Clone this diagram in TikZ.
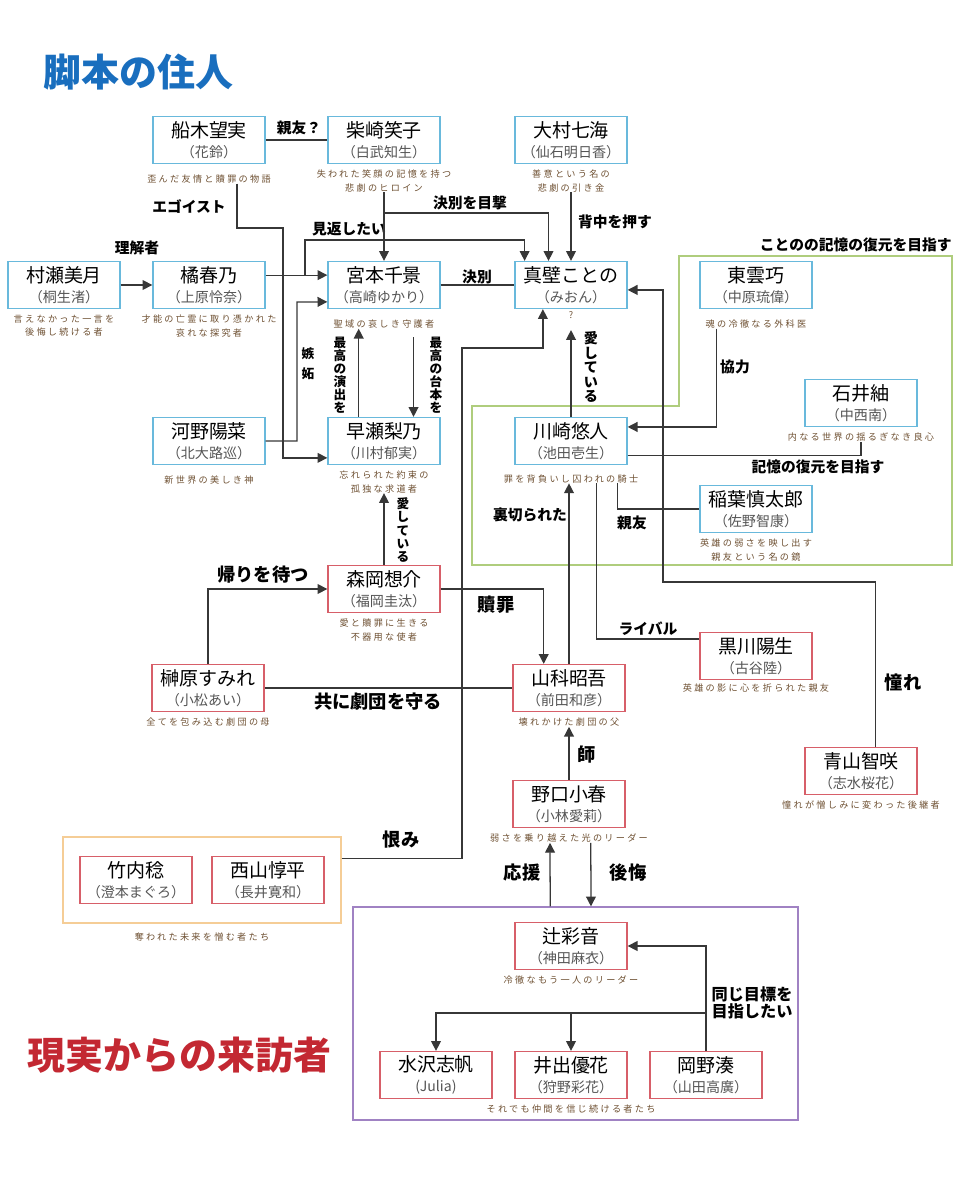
\documentclass[tikz,border=0pt]{standalone}
\usepackage{fontspec}
\setmainfont{Noto Sans CJK JP}
\newfontfamily\descfamily[LetterSpace=25]{Noto Sans CJK JP}
\usepackage{xcolor}
\definecolor{CastBlue}{RGB}{105,185,220}
\definecolor{CastRed}{RGB}{215,95,105}
\definecolor{DescBrown}{RGB}{110,80,50}
\definecolor{ReadGray}{RGB}{85,85,85}
\definecolor{LinkGray}{RGB}{55,55,55}
\definecolor{GroupGreen}{RGB}{175,205,125}
\definecolor{GroupOrange}{RGB}{245,205,150}
\definecolor{GroupPurple}{RGB}{160,130,195}
\definecolor{TitleBlue}{RGB}{25,110,190}
\definecolor{TitleRed}{RGB}{195,40,50}
\usepackage{tikz}
\usetikzlibrary{arrows.meta,positioning,fit}

\newcommand{\cast}[2]{{\fontsize{13.5}{14}\selectfont #1}\\{\fontsize{10}{14}\selectfont\color{ReadGray}（#2）}}

\begin{document}
\begin{tikzpicture}[
  x=0.025cm, y=-0.025cm,
  castA/.style={rectangle, draw=CastBlue, line width=0.9pt, fill=white,
                minimum width=2.8cm, minimum height=1.175cm, align=center,
                inner sep=1pt, font=\fontsize{13.5}{14}\selectfont},
  castB/.style={castA, draw=CastRed},
  desc/.style={font=\descfamily\fontsize{6.5}{9.5}\selectfont, text=DescBrown,
               align=center, inner sep=0pt},
  rel/.style={font=\bfseries\fontsize{10.5}{12}\selectfont, inner sep=0pt, align=center},
  bigrel/.style={font=\bfseries\fontsize{13}{15}\selectfont, inner sep=0pt},
  vrel/.style={font=\bfseries\fontsize{9}{#1}\selectfont, inner sep=0pt, align=center},
  vrel/.default=9.5pt,
  link/.style={line width=0.9pt, color=LinkGray},
  arr/.style={link, -{Triangle[length=7pt,width=7pt]}},
  group/.style={draw=#1, line width=0.9pt}
]
\useasboundingbox (0,0) rectangle (960,1200);

% titles
\node[font=\bfseries\fontsize{27}{30}\selectfont, text=TitleBlue, anchor=west, inner sep=0pt] (title-script) at (43,72) {脚本の住人};
\node[font=\bfseries\fontsize{27}{30}\selectfont, text=TitleRed, anchor=west, inner sep=0pt] (title-visitors) at (27,1055) {現実からの来訪者};

% script residents
\node[castA] (funaki) at (209,140) {\cast{船木望実}{花鈴}};
\node[desc, below=7.5pt of funaki] (d-funaki) {歪んだ友情と贖罪の物語};
\node[castA] (shibasaki) at (384,140) {\cast{柴崎笑子}{白武知生}};
\node[desc, below=4pt of shibasaki] (d-shibasaki) {失われた笑顔の記憶を持つ\\悲劇のヒロイン};
\node[castA] (omura) at (571,140) {\cast{大村七海}{仙石明日香}};
\node[desc, below=4pt of omura] (d-omura) {善意という名の\\悲劇の引き金};
\node[castA] (murase) at (64,285) {\cast{村瀬美月}{桐生渚}};
\node[desc, below=4pt of murase] (d-murase) {言えなかった一言を\\後悔し続ける者};
\node[castA] (tachibana) at (209,285) {\cast{橘春乃}{上原怜奈}};
\node[desc, below=4pt of tachibana] (d-tachibana) {才能の亡霊に取り憑かれた\\哀れな探究者};
\node[castA] (miyamoto) at (384,285) {\cast{宮本千景}{高崎ゆかり}};
\node[desc, below=7.5pt of miyamoto] (d-miyamoto) {聖域の哀しき守護者};
\node[castA] (makabe) at (571,285) {\cast{真壁ことの}{みおん}};
\node[desc] (q-makabe) at (571,315) {?};
\node[castA] (shinonome) at (756,285) {\cast{東雲巧}{中原琉偉}};
\node[desc, below=7.5pt of shinonome] (d-shinonome) {魂の冷徹なる外科医};
\node[castA] (ishii) at (861,403) {\cast{石井紬}{中西南}};
\node[desc, below=4pt of ishii] (d-ishii) {内なる世界の揺るぎなき良心};
\node[castA] (kono) at (209,441) {\cast{河野陽菜}{北大路巡}};
\node[desc, below=7.5pt of kono] (d-kono) {新世界の美しき神};
\node[castA] (hayase) at (384,441) {\cast{早瀬梨乃}{川村郁実}};
\node[desc, below=4pt of hayase] (d-hayase) {忘れられた約束の\\孤独な求道者};
\node[castA] (kawasaki) at (571,441) {\cast{川崎悠人}{池田壱生}};
\node[desc, below=6.5pt of kawasaki] (d-kawasaki) {罪を背負いし囚われの騎士};
\node[castA] (inaba) at (756,509) {\cast{稲葉慎太郎}{佐野智康}};
\node[desc, below=4pt of inaba] (d-inaba) {英雄の弱さを映し出す\\親友という名の鏡};

% visitors from reality
\node[castB] (morioka) at (384,589) {\cast{森岡想介}{福岡圭汰}};
\node[desc, below=4pt of morioka] (d-morioka) {愛と贖罪に生きる\\不器用な使者};
\node[castB] (sakakibara) at (208,688) {\cast{榊原すみれ}{小松あい}};
\node[desc, below=4pt of sakakibara] (d-sakakibara) {全てを包み込む劇団の母};
\node[castB] (yamashina) at (569,688) {\cast{山科昭吾}{前田和彦}};
\node[desc, below=4pt of yamashina] (d-yamashina) {壊れかけた劇団の父};
\node[castB] (kurokawa) at (756,656) {\cast{黒川陽生}{古谷陸}};
\node[desc, below=2.5pt of kurokawa] (d-kurokawa) {英雄の影に心を折られた親友};
\node[castB] (aoyama) at (861,771) {\cast{青山智咲}{志水桜花}};
\node[desc, below=4pt of aoyama] (d-aoyama) {憧れが憎しみに変わった後継者};
\node[castB] (noguchi) at (569,804) {\cast{野口小春}{小林愛莉}};
\node[desc, below=4pt of noguchi] (d-noguchi) {弱さを乗り越えた光のリーダー};
\node[castB] (takeuchi) at (136,880) {\cast{竹内稔}{澄本まぐろ}};
\node[castB] (nishiyama) at (268,880) {\cast{西山惇平}{長井寛和}};
\node[castB] (tsuji) at (571,946) {\cast{辻彩音}{神田麻衣}};
\node[desc, below=4pt of tsuji] (d-tsuji) {冷徹なもう一人のリーダー};
\node[castB] (mizusawa) at (436,1075) {{\fontsize{13.5}{14}\selectfont 水沢志帆}\\{\fontsize{10}{14}\selectfont\color{ReadGray}(Julia)}};
\node[castB] (ide) at (571,1075) {\cast{井出優花}{狩野彩花}};
\node[castB] (okano) at (706,1075) {\cast{岡野湊}{山田高廣}};
\node[desc, below=4pt of ide] (d-visitors) {それでも仲間を信じ続ける者たち};

% groups
\node[group=GroupOrange, fit=(takeuchi)(nishiyama), inner xsep=11.7pt, inner ysep=13.5pt] (rivals) {};
\node[desc, below=6pt of rivals] (d-rivals) {奪われた未来を憎む者たち};
\node[group=GroupPurple, fit={(353,907) (798,1120)}, inner sep=0pt] (visitors) {};
\draw[group=GroupGreen] (679,256) -- (952,256) -- (952,565) -- (472,565) -- (472,406) -- (679,406) -- cycle;
\node[rel, anchor=south east] (l-kotono) at (952,252) {ことのの記憶の復元を目指す};

% top links
\draw[link] (funaki) -- (shibasaki);
\node[rel] (l-shinyu1) at (299,128) {親友？};
\draw[arr] (murase) -- (tachibana);
\node[rel] (l-rikai) at (137,248) {理解者};
\draw[arr] ([yshift=7pt]tachibana.east) -- ([yshift=7pt]miyamoto.west);
\coordinate (j-mikaeshi) at (305,275);
\draw[arr] (j-mikaeshi) -- (305,240) -| ([xshift=-33pt]makabe.north);
\node[rel] (l-mikaeshi) at (349,229) {見返したい};
\draw[arr] (d-shibasaki) -- (miyamoto);
\coordinate (j-mokugeki) at (384,213);
\draw[arr] (j-mokugeki) -| ([xshift=-16pt]makabe.north);
\node[rel] (l-mokugeki) at (470,203) {決別を目撃};
\draw[arr] (d-omura) -- (makabe);
\node[rel] (l-senaka) at (615,222) {背中を押す};
\draw[link] (miyamoto) -- (makabe);
\node[rel] (l-ketsubetsu) at (477,277) {決別};

% left links
\draw[arr] ([xshift=20pt]d-funaki.south) |- (283,228) |- ([yshift=-12pt]hayase.west);
\node[rel] (l-egoist) at (189,207) {エゴイスト};
\draw[arr] (kono.east) -| (297,302) -- ([yshift=-12pt]miyamoto.west);
\node[vrel=14pt] (l-shitto) at (308,364) {嫉\\妬};
\draw[arr] ([xshift=-18pt]hayase.north) -- ([xshift=-18pt]d-miyamoto.south);
\node[vrel=9.3pt] (l-enshutsu) at (340,375) {最\\高\\の\\演\\出\\を};
\draw[arr] ([xshift=21pt,yshift=-6pt]d-miyamoto.south) -- ([xshift=21pt]hayase.north);
\node[vrel=9.3pt] (l-daihon) at (436,375) {最\\高\\の\\台\\本\\を};
\draw[arr] (morioka) -- (d-hayase);
\node[vrel=9.3pt] (l-ai2) at (403,530) {愛\\し\\て\\い\\る};
\draw[arr] (sakakibara.north) |- (morioka.west);
\node[bigrel] (l-kaeri) at (263,575) {帰りを待つ};
\draw[arr] (morioka.east) -| ([xshift=-18pt]yamashina.north);
\node[bigrel] (l-shokuzai) at (496,605) {贖罪};
\draw[link] (sakakibara) -- (yamashina);
\node[bigrel] (l-gekidan) at (378,702) {共に劇団を守る};
\draw[arr] ([yshift=15.5pt]rivals.east) -| (462,348) -| ([xshift=-20pt]makabe.south);
\node[bigrel] (l-urami) at (401,840) {恨み};

% right links
\draw[arr] (kawasaki) -- ([yshift=-8pt]q-makabe.south);
\node[vrel=10.3pt, font=\bfseries\fontsize{10}{10.3}\selectfont] (l-ai1) at (591,367) {愛\\し\\て\\い\\る};
\draw[arr] (yamashina.north) -- (yamashina.north |- d-kawasaki.south);
\node[rel] (l-uragiri) at (530,515) {裏切られた};
\draw[link] ([xshift=18pt]d-kawasaki.south) |- ([yshift=12pt]kurokawa.west);
\node[rel] (l-rival) at (648,629) {ライバル};
\draw[link] ([xshift=33pt]d-kawasaki.south) |- (inaba.west);
\node[rel] (l-shinyu2) at (632,523) {親友};
\draw[arr] ([xshift=-28pt]d-shinonome.south) |- ([yshift=10pt]kawasaki.east);
\node[rel] (l-kyoryoku) at (735,367) {協力};
\draw[link] ([yshift=-10.5pt]kawasaki.east) -| (d-ishii.south);
\node[rel] (l-kioku) at (818,467) {記憶の復元を目指す};
\draw[arr] ([xshift=10.5pt]aoyama.north) |- (663,582) |- ([yshift=-3.5pt]makabe.east);
\node[bigrel] (l-akogare) at (903,683) {憧れ};

% bottom links
\draw[arr] (noguchi) -- (d-yamashina);
\node[bigrel] (l-shi) at (587,755) {師};
\draw[arr] ([xshift=-18pt]visitors.north) -- ([xshift=-13.5pt]d-noguchi.south);
\node[bigrel] (l-ouen) at (522,873) {応援};
\draw[arr] ([xshift=15.5pt]d-noguchi.south) -- ([xshift=11pt]visitors.north);
\node[bigrel] (l-koukai) at (628,873) {後悔};
\draw[arr] (okano.north) |- (tsuji.east);
\coordinate (j-mokuhyo) at (706,1013);
\draw[arr] (j-mokuhyo) -| (mizusawa.north);
\draw[arr] (ide.north |- j-mokuhyo) -- (ide.north);
\node[rel, font=\bfseries\fontsize{11.5}{12}\selectfont] (l-mokuhyo) at (752,1003) {同じ目標を\\目指したい};
\end{tikzpicture}
\end{document}
